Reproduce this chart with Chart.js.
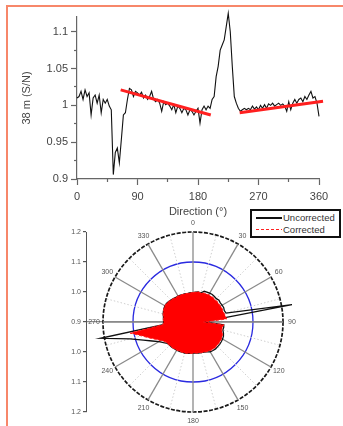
<!DOCTYPE html>
<html>
<head>
<meta charset="utf-8">
<script src="https://cdn.jsdelivr.net/npm/chart.js@4.4.1/dist/chart.umd.min.js"></script>
<style>
  html, body { margin: 0; padding: 0; background: #fff; width: 343px; height: 426px; overflow: hidden; }
  body { position: relative; font-family: "Liberation Sans", Arial, sans-serif; }
  .frame { position: absolute; left: 6px; top: 5px; width: 345px; height: 430px;
           border-top: 2px solid #f7876a; border-left: 2px solid #f7876a; }
  .box { position: absolute; }
  #legend { position: absolute; left: 250px; top: 209px; width: 87px; height: 25px;
            border: 2px solid #111; background: #fff; font-size: 9.5px; color: #333; }
  #legend .ln { position: absolute; left: 4px; width: 26px; }
  #legend .tx { position: absolute; left: 31px; line-height: 11px; white-space: nowrap; }
  #legend .dash { height: 1.2px; background: repeating-linear-gradient(90deg, #ff2020 0 3px, transparent 3px 5px); }
</style>
</head>
<body>
<div class="frame"></div>
<div class="box" style="left:0;top:0;width:343px;height:222px"><canvas id="topChart"></canvas></div>
<div class="box" style="left:40px;top:222px;width:260px;height:200px"><canvas id="axisChart"></canvas></div>
<div class="box" style="left:83px;top:212px;width:220px;height:220px"><canvas id="polarChart"></canvas></div>
<div id="legend">
  <div class="ln" style="top:6px;border-top:2px solid #111"></div>
  <div class="tx" style="top:1px">Uncorrected</div>
  <div class="ln dash" style="top:18px"></div>
  <div class="tx" style="top:13px">Corrected</div>
</div>
<script>
Chart.defaults.font.family = '"Liberation Sans", Arial, sans-serif';

// top panel: signal ratio vs direction, one value every 3 degrees
const topStep = 3;
const topUncorrected = [
  1.010, 1.012, 1.019, 1.008, 1.021, 1.012, 1.017, 0.987, 1.010, 1.014,
  1.003, 1.014, 0.990, 1.008, 1.003, 1.008, 0.999, 0.994, 0.906, 0.936,
  0.942, 0.922, 0.954, 0.987, 0.990, 1.008, 1.023, 1.021, 1.012, 1.019,
  1.017, 1.014, 1.018, 1.010, 1.014, 1.008, 1.012, 1.019, 1.008, 1.005,
  1.008, 1.003, 0.992, 1.005, 1.001, 1.003, 0.999, 0.994, 1.001, 0.990,
  0.999, 0.996, 0.990, 0.996, 0.994, 0.987, 0.994, 0.992, 0.987, 0.992,
  0.996, 0.976, 0.994, 0.999, 0.994, 0.999, 0.996, 1.008, 1.012, 1.039,
  1.053, 1.075, 1.082, 1.089, 1.107, 1.125, 1.100, 1.053, 1.012, 1.003,
  0.996, 0.992, 0.994, 0.996, 0.994, 0.996, 0.994, 0.999, 0.995, 0.998,
  0.994, 1.000, 0.996, 1.001, 0.996, 1.002, 1.000, 1.003, 0.999, 1.001,
  1.003, 1.000, 1.002, 0.999, 0.992, 1.005, 0.994, 1.003, 1.008, 1.003,
  1.008, 1.010, 1.005, 1.012, 1.008, 1.014, 1.019, 1.010, 1.012, 1.003, 0.985
];
const fitA = [[65, 1.021], [199, 0.987]];
const fitB = [[242, 0.990], [366, 1.0055]];
const xMajor = [0, 90, 180, 270, 360];
const xMinor = [45, 135, 225, 315];
const yMajor = [0.9, 0.95, 1, 1.05, 1.1];
const yMinor = [0.925, 0.975, 1.025, 1.075];

// bottom panel: polar plot, one value every 5 degrees (0..355)
const polarStep = 5;
const polarCorrected = [
  0.998, 1.000, 1.002, 1.000, 1.003, 1.004, 1.005, 1.005, 1.006, 1.004,
  1.006, 1.005, 1.006, 1.007, 1.006, 1.008, 1.010, 1.012, 0.935, 1.003,
  1.000, 0.999, 1.004, 1.008, 1.010, 1.011, 1.012, 1.012, 1.013, 1.012,
  1.011, 1.009, 1.007, 1.006, 1.005, 1.004, 1.004, 1.005, 1.006, 1.007,
  1.007, 1.008, 1.008, 1.009, 1.010, 1.010, 1.011, 1.014, 1.024, 1.037,
  1.055, 1.078, 1.113, 1.000, 0.998, 0.999, 1.000, 1.003, 1.005, 1.007,
  1.008, 1.008, 1.006, 1.004, 1.002, 1.000, 1.000, 0.999, 0.998, 0.998,
  0.997, 0.998
];
const polarUncorrected = [
  0.998, 1.000, 1.002, 1.000, 1.009, 1.010, 1.011, 1.012, 1.011, 1.010,
  1.013, 1.011, 1.012, 1.013, 1.011, 1.014, 1.235, 0.960, 0.935, 1.003,
  1.004, 1.003, 1.008, 1.012, 1.014, 1.015, 1.016, 1.016, 1.017, 1.016,
  1.015, 1.010, 1.007, 1.006, 1.005, 1.004, 1.004, 1.005, 1.006, 1.007,
  1.007, 1.008, 1.008, 1.009, 1.010, 1.010, 1.011, 1.020, 1.031, 1.050,
  1.076, 1.117, 1.213, 1.000, 0.998, 0.999, 1.000, 1.003, 1.005, 1.007,
  1.008, 1.008, 1.006, 1.004, 1.002, 1.000, 1.000, 0.999, 0.998, 0.998,
  0.997, 0.998
];
const angleLabels = [0, 30, 60, 90, 120, 150, 180, 210, 240, 270, 300, 330];

const topDirs = topUncorrected.map((_, i) => i * topStep);
const polarDirs = polarCorrected.map((_, i) => i * polarStep);
const asTicks = arr => arr.map(v => ({ value: v }));
const near = (a, b) => Math.abs(a - b) < 1e-6;

const axisGrey = '#666';
const textGrey = '#444';

new Chart(document.getElementById('topChart'), {
  type: 'line',
  data: {
    datasets: [
      { data: fitA.map(([x, y]) => ({ x, y })), borderColor: '#ff1f1f', borderWidth: 3, pointRadius: 0, clip: false },
      { data: fitB.map(([x, y]) => ({ x, y })), borderColor: '#ff1f1f', borderWidth: 3, pointRadius: 0, clip: false },
      { data: topDirs.map((d, i) => ({ x: d, y: topUncorrected[i] })), borderColor: '#111', borderWidth: 1.1, pointRadius: 0, clip: false }
    ]
  },
  options: {
    responsive: true, maintainAspectRatio: false, animation: false,
    layout: { padding: { top: 17, right: 24, left: 0, bottom: 0 } },
    plugins: { legend: { display: false }, tooltip: { enabled: false } },
    scales: {
      x: {
        type: 'linear', min: 0, max: 360,
        afterBuildTicks: s => { s.ticks = asTicks(xMajor); },
        afterFit: s => { s.height = 43; },
        ticks: { color: textGrey, font: { size: 11 }, padding: 5, maxRotation: 0 },
        grid: { drawOnChartArea: false, tickLength: 6, color: axisGrey, tickWidth: 1.2 },
        border: { color: axisGrey, width: 1.2 },
        title: { display: true, text: 'Direction (°)', color: textGrey, font: { size: 11 }, padding: { top: 0, bottom: 3 } }
      },
      x2: {
        type: 'linear', position: { y: 0.9 }, min: 0, max: 360,
        afterBuildTicks: s => { s.ticks = asTicks(xMinor); },
        ticks: { display: false },
        grid: { drawOnChartArea: false, tickLength: 3, color: axisGrey, tickWidth: 1.2 },
        border: { display: false }
      },
      y: {
        type: 'linear', min: 0.9, max: 1.12,
        afterBuildTicks: s => { s.ticks = asTicks(yMajor); },
        afterFit: s => { s.width = 77; },
        ticks: { color: textGrey, font: { size: 11 }, padding: 3, callback: v => String(+v.toFixed(2)) },
        grid: { drawOnChartArea: false, tickLength: 6, color: axisGrey, tickWidth: 1.2 },
        border: { color: axisGrey, width: 1.2 },
        title: { display: true, text: '38 m (S/N)', color: textGrey, font: { size: 11 }, padding: { top: 20, bottom: 0 } }
      },
      y2: {
        type: 'linear', position: { x: 0 }, min: 0.9, max: 1.12,
        afterBuildTicks: s => { s.ticks = asTicks(yMinor); },
        ticks: { display: false },
        grid: { drawOnChartArea: false, tickLength: 3, color: axisGrey, tickWidth: 1.2 },
        border: { display: false }
      }
    }
  }
});

// left-hand radial value axis of the polar plot
new Chart(document.getElementById('axisChart'), {
  type: 'scatter',
  data: { datasets: [] },
  options: {
    responsive: true, maintainAspectRatio: false, animation: false,
    layout: { padding: { top: 10, bottom: 10, left: 0, right: 17 } },
    plugins: { legend: { display: false }, tooltip: { enabled: false } },
    scales: {
      x: { display: false, min: 0, max: 1 },
      y: {
        min: -0.3, max: 0.3,
        afterFit: s => { s.width = 46; },
        ticks: { stepSize: 0.1, color: '#555', font: { size: 7 }, padding: 2,
                 callback: v => (0.9 + Math.abs(v)).toFixed(1) },
        grid: { color: c => (c.tick && near(c.tick.value, 0)) ? '#8c8c8c' : 'rgba(0,0,0,0)',
                lineWidth: 1.2, tickColor: '#555', tickLength: 3 },
        border: { color: '#555', width: 1 }
      }
    }
  }
});

const polarLabelsPlugin = {
  id: 'polarLabels',
  afterDraw(chart) {
    const r = chart.scales.r;
    const ctx = chart.ctx;
    ctx.save();
    ctx.font = '7px "Liberation Sans", Arial, sans-serif';
    ctx.fillStyle = '#555';
    ctx.textAlign = 'center';
    ctx.textBaseline = 'middle';
    angleLabels.forEach(a => {
      const p = r.getPointPosition(a / polarStep, r.drawingArea + 9);
      ctx.fillText(String(a), p.x, p.y);
    });
    ctx.restore();
  }
};

const spokeKind = i => {
  const a = polarDirs[i];
  if (a % 30 === 0) return 'major';
  if (a % 15 === 0) return 'minor';
  return 'none';
};

new Chart(document.getElementById('polarChart'), {
  type: 'radar',
  data: {
    labels: polarDirs,
    datasets: [
      { label: 'Corrected', data: polarCorrected, borderColor: '#ff1a1a', borderDash: [3, 2], borderWidth: 1,
        backgroundColor: '#ff0000', fill: 'start', pointRadius: 0, clip: false },
      { label: 'Uncorrected', data: polarUncorrected, borderColor: '#111', borderWidth: 1.3,
        fill: false, pointRadius: 0, clip: false }
    ]
  },
  options: {
    responsive: true, maintainAspectRatio: false, animation: false,
    layout: { padding: 20 },
    elements: { line: { tension: 0 } },
    plugins: { legend: { display: false }, tooltip: { enabled: false } },
    scales: {
      r: {
        min: 0.9, max: 1.2,
        ticks: { display: false, stepSize: 0.1 },
        pointLabels: { display: false },
        grid: {
          circular: true,
          color: c => near(c.tick.value, 1.2) ? '#1a1a1a' : near(c.tick.value, 1.1) ? '#2a2ae0' : 'rgba(0,0,0,0)',
          lineWidth: c => near(c.tick.value, 1.2) ? 1.7 : 1.3
        },
        border: { dash: c => near(c.tick.value, 1.2) ? [4, 1.5] : [] },
        angleLines: {
          color: c => spokeKind(c.index) === 'major' ? '#8a8a8a' : '#cfcfcf',
          lineWidth: c => ({ major: 1.3, minor: 1, none: 0 })[spokeKind(c.index)],
          borderDash: c => spokeKind(c.index) === 'major' ? [] : [1.5, 2]
        }
      }
    }
  },
  plugins: [polarLabelsPlugin]
});
</script>
</body>
</html>
